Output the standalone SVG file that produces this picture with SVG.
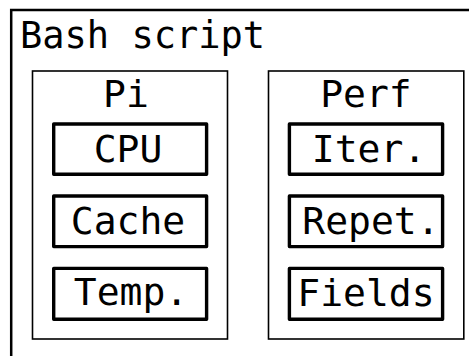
<svg xmlns="http://www.w3.org/2000/svg" width="469" height="356" viewBox="0 0 469 356">
<style>
text{font-family:"DejaVu Sans Mono","Liberation Mono",monospace;fill:#000}
.outer{fill:none;stroke:#000;stroke-width:2.5}
.group{fill:none;stroke:#000;stroke-width:1.6}
.item{fill:#fff;stroke:#000;stroke-width:3.4;stroke-linejoin:round}
.lbl{font-size:38px;text-anchor:middle}
</style>
<rect width="469" height="356" fill="#fff"/>
<g id="bash">
<rect class="outer" x="11.2" y="10" width="480" height="380"/>
<text x="20" y="48" font-size="37">Bash script</text>
</g>
<g id="pi">
<rect class="group" x="32.5" y="71" width="195" height="268"/>
<text class="lbl" x="126" y="107">Pi</text>
</g>
<g id="perf">
<rect class="group" x="268.5" y="71" width="195.3" height="268"/>
<text class="lbl" x="366" y="107">Perf</text>
</g>
<g id="cpu">
<rect class="item" x="53.7" y="124" width="152.9" height="50.3"/>
<text class="lbl" x="128" y="161.5">CPU</text>
</g>
<g id="cache">
<rect class="item" x="53.7" y="196" width="152.9" height="50.6"/>
<text class="lbl" x="128" y="233.5">Cache</text>
</g>
<g id="temp">
<rect class="item" x="53.7" y="268.4" width="152.9" height="50.9"/>
<text class="lbl" x="131" y="305">Temp.</text>
</g>
<g id="iter">
<rect class="item" x="289.4" y="124" width="153.2" height="50.3"/>
<text class="lbl" x="369" y="161.5">Iter.</text>
</g>
<g id="repet">
<rect class="item" x="289.4" y="196" width="153.2" height="50.6"/>
<text class="lbl" x="371" y="233.5">Repet.</text>
</g>
<g id="fields">
<rect class="item" x="289.4" y="268.4" width="153.2" height="50.9"/>
<text class="lbl" x="366" y="305.5">Fields</text>
</g>
<g id="connectors"></g>
</svg>
